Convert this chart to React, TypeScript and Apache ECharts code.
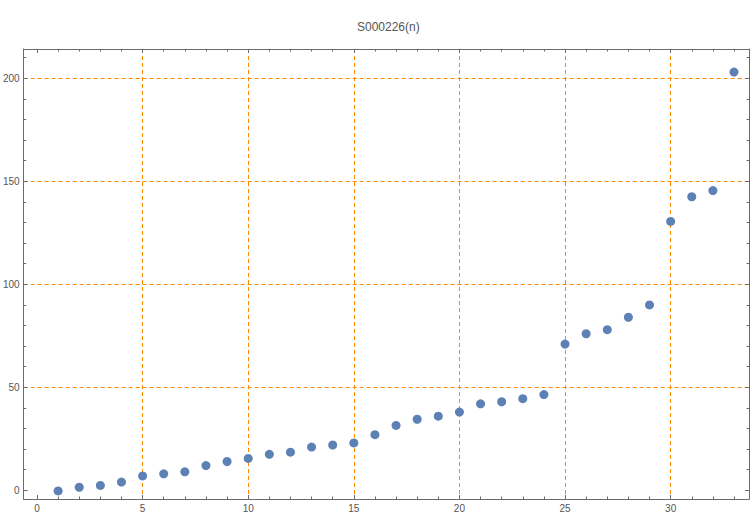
import React, { useEffect, useRef } from "react";
import * as echarts from "echarts";

const chartTitle = "S000226(n)";
const nValues = [1, 2, 3, 4, 5, 6, 7, 8, 9, 10, 11, 12, 13, 14, 15, 16, 17, 18, 19, 20, 21, 22, 23, 24, 25, 26, 27, 28, 29, 30, 31, 32, 33];
const sValues = [-0.3, 1.5, 2.4, 4, 7, 8, 9, 12, 14, 15.5, 17.5, 18.5, 21, 22, 23, 27, 31.5, 34.5, 36, 38, 42, 43, 44.5, 46.5, 71, 76, 78, 84, 90, 130.5, 142.5, 145.5, 203];

const xMajorTicks = [0, 5, 10, 15, 20, 25, 30];
const xMinorTicks = [1, 2, 3, 4, 6, 7, 8, 9, 11, 12, 13, 14, 16, 17, 18, 19, 21, 22, 23, 24, 26, 27, 28, 29, 31, 32, 33];
const yMajorTicks = [0, 50, 100, 150, 200];
const yMinorTicks = [10, 20, 30, 40, 60, 70, 80, 90, 110, 120, 130, 140, 160, 170, 180, 190, 210];
const xGridLines = [5, 10, 15, 20, 25, 30];
const yGridLines = [50, 100, 150, 200];

const X_MIN = -0.63;
const X_MAX = 33.71;
const Y_MIN = -4.2;
const Y_MAX = 214.2;

const FRAME = "#6b6b6b";
const LABEL = "#555555";
const ORANGE = "#FF8A00";
const FONT = "Liberation Sans, Arial, sans-serif";

function makeAxis(kind: "x" | "y", position: string, ticks: number[], opts: { line: boolean; labels: boolean; len: number }) {
  const min = kind === "x" ? X_MIN : Y_MIN;
  const max = kind === "x" ? X_MAX : Y_MAX;
  return {
    type: "value",
    position,
    min,
    max,
    axisLine: { show: opts.line, onZero: false, lineStyle: { color: FRAME, width: 1 } },
    axisTick: {
      show: true,
      inside: true,
      length: opts.len,
      customValues: ticks,
      lineStyle: { color: FRAME, width: 1 },
    },
    axisLabel: {
      show: opts.labels,
      customValues: ticks,
      color: LABEL,
      fontSize: 10,
      fontFamily: FONT,
      margin: 4,
    },
    splitLine: { show: false },
    minorTick: { show: false },
  };
}

function makeGridAxis(kind: "x" | "y", position: string, lines: number[]) {
  const min = kind === "x" ? X_MIN : Y_MIN;
  const max = kind === "x" ? X_MAX : Y_MAX;
  return {
    type: "value",
    position,
    min,
    max,
    z: 0,
    axisLine: { show: false, onZero: false },
    axisTick: { show: false, customValues: lines },
    axisLabel: { show: false, customValues: lines },
    splitLine: { show: true, lineStyle: { color: ORANGE, type: [4, 3], width: 1 } },
  };
}

export default function App() {
  const ref = useRef<HTMLDivElement>(null);
  useEffect(() => {
    if (!ref.current) return;
    const chart = echarts.init(ref.current, undefined, { renderer: "svg" });
    const data = nValues.map((n, i) => [n, sValues[i]]);
    chart.setOption({
      animation: false,
      backgroundColor: "#ffffff",
      title: {
        text: chartTitle,
        left: 352,
        top: 16,
        textStyle: { color: LABEL, fontSize: 12, fontWeight: "normal", fontFamily: FONT },
      },
      grid: { left: 21, right: 1, top: 49, bottom: 18, containLabel: false },
      xAxis: [
        makeAxis("x", "bottom", xMajorTicks, { line: true, labels: true, len: 4 }),
        makeAxis("x", "bottom", xMinorTicks, { line: false, labels: false, len: 2.5 }),
        makeAxis("x", "top", xMajorTicks, { line: true, labels: false, len: 4 }),
        makeAxis("x", "top", xMinorTicks, { line: false, labels: false, len: 2.5 }),
        makeGridAxis("x", "bottom", xGridLines),
      ],
      yAxis: [
        makeAxis("y", "left", yMajorTicks, { line: true, labels: true, len: 4 }),
        makeAxis("y", "left", yMinorTicks, { line: false, labels: false, len: 2.5 }),
        makeAxis("y", "right", yMajorTicks, { line: true, labels: false, len: 4 }),
        makeAxis("y", "right", yMinorTicks, { line: false, labels: false, len: 2.5 }),
        makeGridAxis("y", "left", yGridLines),
      ],
      series: [
        {
          type: "scatter",
          xAxisIndex: 0,
          yAxisIndex: 0,
          data,
          symbol: "circle",
          symbolSize: 9,
          z: 5,
          itemStyle: { color: "#5E81B5", opacity: 1 },
        },
      ],
    });
    return () => chart.dispose();
  }, []);
  return <div ref={ref} style={{ position: "fixed", left: 0, top: 0, width: 750, height: 517 }} />;
}
